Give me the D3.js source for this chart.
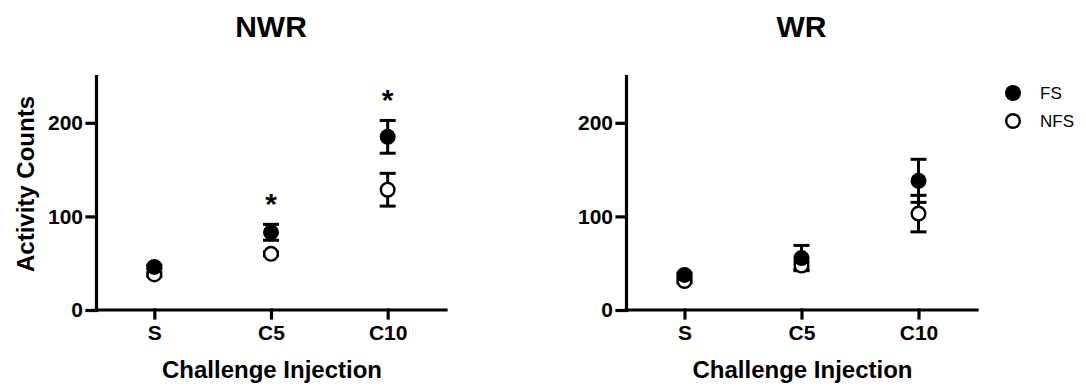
<!DOCTYPE html>
<html>
<head>
<meta charset="utf-8">
<script src="https://cdn.jsdelivr.net/npm/d3@7"></script>
<style>
  body { margin: 0; background: #fff; }
  svg text { font-family: "Liberation Sans", Arial, sans-serif; fill: #000; }
</style>
</head>
<body>
<div id="chart"></div>
<script>
// values (mean, SEM)
const categories = ["S", "C5", "C10"];
const yTicks = [0, 100, 200];

const nwrFS = [46, 83, 185];
const nwrFSerr = [2, 8.5, 17.5];
const nwrNFS = [38, 60, 128.5];
const nwrNFSerr = [2, 2, 17.5];
const nwrSig = ["", "*", "*"];

const wrFS = [37.5, 55.5, 138];
const wrFSerr = [2, 13.5, 23];
const wrNFS = [31, 47.5, 103];
const wrNFSerr = [2, 4, 19.5];
const wrSig = ["", "", ""];

const seriesNames = ["FS", "NFS"];

const width = 1086, height = 392;
const plotTop = 76, plotBottom = 310;

const svg = d3.select("#chart").append("svg")
  .attr("width", width)
  .attr("height", height);

function drawPanel(left, right, title, fs, fsErr, nfs, nfsErr, sig, showYLabel) {
  const x = d3.scalePoint().domain(categories).range([left, right]).padding(0.5);
  const y = d3.scaleLinear().domain([0, 250]).range([plotBottom, plotTop]);
  const g = svg.append("g");

  // title
  g.append("text")
    .attr("x", (left + right) / 2)
    .attr("y", 37)
    .attr("text-anchor", "middle")
    .style("font-size", "30px")
    .style("font-weight", "bold")
    .text(title);

  // axes
  const yAxis = g.append("g")
    .attr("transform", `translate(${left},0)`)
    .call(d3.axisLeft(y).tickValues(yTicks).tickSize(9).tickSizeOuter(0).tickPadding(4));
  const xAxis = g.append("g")
    .attr("transform", `translate(0,${plotBottom})`)
    .call(d3.axisBottom(x).tickSize(8).tickSizeOuter(0).tickPadding(7));
  xAxis.select(".domain").attr("d", `M${left},0H${right}`);

  [yAxis, xAxis].forEach(function(a) {
    a.selectAll("path, line").attr("stroke", "#000").attr("stroke-width", 3.2).attr("stroke-linecap", "square");
    a.selectAll("text").style("font-size", "21px").style("font-weight", "bold").attr("font-family", null);
  });

  // axis labels
  g.append("text")
    .attr("x", (left + right) / 2 + 1)
    .attr("y", 378)
    .attr("text-anchor", "middle")
    .style("font-size", "24px")
    .style("font-weight", "bold")
    .text("Challenge Injection");

  if (showYLabel) {
    g.append("text")
      .attr("transform", "translate(34,184) rotate(-90)")
      .attr("text-anchor", "middle")
      .style("font-size", "24px")
      .style("font-weight", "bold")
      .text("Activity Counts");
  }

  const groups = [
    { vals: nfs, err: nfsErr, filled: false },
    { vals: fs, err: fsErr, filled: true }
  ];

  // error bars first, then markers on top
  groups.forEach(function(s) {
    categories.forEach(function(c, i) {
      const cx = x(c);
      const hi = y(s.vals[i] + s.err[i]);
      const lo = y(s.vals[i] - s.err[i]);
      g.append("line").attr("x1", cx).attr("x2", cx).attr("y1", hi).attr("y2", lo)
        .attr("stroke", "#000").attr("stroke-width", 3);
      [hi, lo].forEach(function(yy) {
        g.append("line").attr("x1", cx - 8).attr("x2", cx + 8).attr("y1", yy).attr("y2", yy)
          .attr("stroke", "#000").attr("stroke-width", 3);
      });
    });
  });

  groups.forEach(function(s) {
    g.selectAll(null)
      .data(categories)
      .enter().append("circle")
      .attr("cx", function(d) { return x(d); })
      .attr("cy", function(d, i) { return y(s.vals[i]); })
      .attr("r", s.filled ? 8 : 6.8)
      .attr("fill", s.filled ? "#000" : "#fff")
      .attr("stroke", "#000")
      .attr("stroke-width", s.filled ? 0 : 2.4);
  });

  // significance stars above the FS upper bar
  categories.forEach(function(c, i) {
    if (!sig[i]) return;
    g.append("text")
      .attr("x", x(c))
      .attr("y", y(fs[i] + fsErr[i]) - 27 + 17)
      .attr("text-anchor", "middle")
      .style("font-size", "30px")
      .style("font-weight", "bold")
      .text(sig[i]);
  });
}

drawPanel(96, 446, "NWR", nwrFS, nwrFSerr, nwrNFS, nwrNFSerr, nwrSig, true);
drawPanel(626, 977, "WR", wrFS, wrFSerr, wrNFS, wrNFSerr, wrSig, false);

// legend
const legend = svg.append("g");
seriesNames.forEach(function(name, i) {
  const ly = 93 + i * 28;
  legend.append("circle")
    .attr("cx", 1013).attr("cy", ly)
    .attr("r", i === 0 ? 8 : 6.8)
    .attr("fill", i === 0 ? "#000" : "#fff")
    .attr("stroke", "#000")
    .attr("stroke-width", i === 0 ? 0 : 2.4);
  legend.append("text")
    .attr("x", 1040).attr("y", ly)
    .attr("dy", "0.36em")
    .style("font-size", "17px")
    .text(name);
});
</script>
</body>
</html>
